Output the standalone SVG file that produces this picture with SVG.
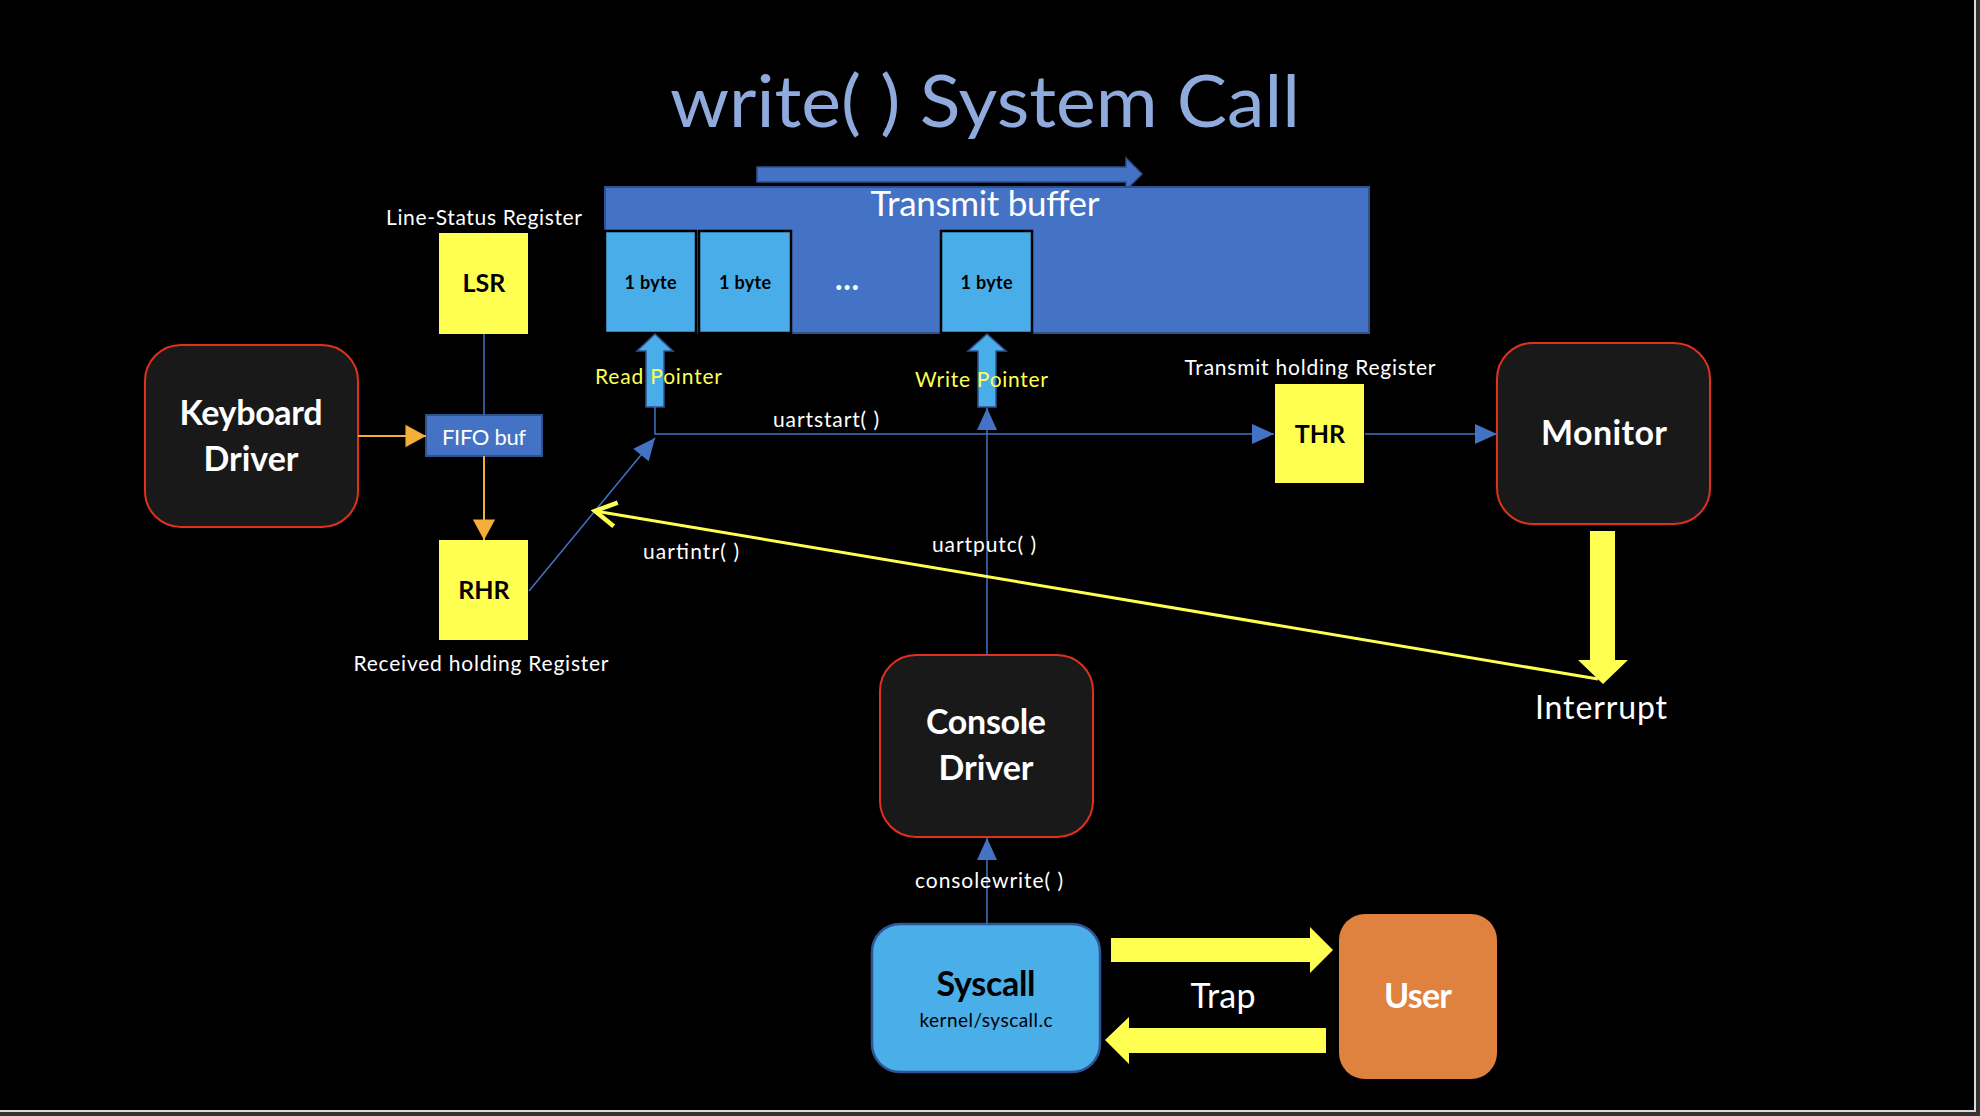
<svg xmlns="http://www.w3.org/2000/svg" width="1980" height="1116" viewBox="0 0 1980 1116">
<defs>
<style>
.t{font-family:Lato,"Open Sans","Liberation Sans",sans-serif;}
.b{font-weight:bold;}
.wh{fill:#ffffff;}
.bk{fill:#000000;}
.mid{text-anchor:middle;}
.reg{fill:#FFFF52;}
.drv{fill:#191919;stroke:#E0301E;stroke-width:2;}
.cell{fill:#48ADE8;stroke:#000000;stroke-width:2.5;}
.bl{stroke:#4472C4;stroke-width:1.5;fill:none;}
.or{stroke:#F4AE3A;stroke-width:2;fill:none;}
</style>
<marker id="ab" markerUnits="userSpaceOnUse" markerWidth="24" markerHeight="24" viewBox="-12 -6 12 12" refX="0" refY="0" orient="auto"><path d="M-11,-5 L0,0 L-11,5 Z" fill="#4472C4"/></marker>
<marker id="ao" markerUnits="userSpaceOnUse" markerWidth="24" markerHeight="24" viewBox="-13 -7 13 14" refX="0" refY="0" orient="auto"><path d="M-12,-6.5 L0,0 L-12,6.5 Z" fill="#F4AE3A"/></marker>
<marker id="ay" markerUnits="userSpaceOnUse" markerWidth="30" markerHeight="30" viewBox="-16 -10 18 20" refX="0" refY="0" orient="auto"><path d="M-14,-8 L0,0 L-14,8" fill="none" stroke="#FFFF52" stroke-width="3"/></marker>
</defs>
<rect x="0" y="0" width="1980" height="1116" fill="#000000"/>
<rect x="1976" y="0" width="4" height="1116" fill="#333333"/>
<rect x="0" y="1112" width="1980" height="4" fill="#333333"/>
<rect x="1974" y="0" width="2" height="1112" fill="#D9D9D9"/>
<rect x="0" y="1110" width="1976" height="2" fill="#D9D9D9"/>

<text id="title" class="t mid" x="985" y="127" font-size="72" fill="#8FAADC" textLength="630" lengthAdjust="spacingAndGlyphs">write( ) System Call</text>

<g id="direction-arrow">
<polygon points="757,167 1126,167 1126,158 1142,174 1126,190 1126,182 757,182" fill="#4472C4" stroke="#2F528F" stroke-width="1.5"/>
</g>

<g id="transmit-buffer">
<rect x="605" y="187" width="764" height="146" fill="#4472C4" stroke="#2F528F" stroke-width="2"/>
<text class="t mid wh" x="985" y="216" font-size="35" textLength="229">Transmit buffer</text>
</g>
<g id="byte1"><rect class="cell" x="605" y="231" width="91" height="102"/><text class="t b mid bk" x="650.5" y="289" font-size="18" textLength="52">1 byte</text></g>
<g id="byte2"><rect class="cell" x="699" y="231" width="92" height="102"/><text class="t b mid bk" x="745" y="289" font-size="18" textLength="52">1 byte</text></g>
<g id="ellipsis"><text class="t b mid wh" x="847" y="290" font-size="32" textLength="24">...</text></g>
<g id="byte3"><rect class="cell" x="941" y="231" width="91" height="102"/><text class="t b mid bk" x="986.5" y="289" font-size="18" textLength="52">1 byte</text></g>

<g id="read-pointer">
<polygon points="655,334 673,351 664,351 664,407 646,407 646,351 637,351" fill="#48ADE8" stroke="#2F528F" stroke-width="1.5"/>
<text class="t" x="595" y="384" font-size="21" fill="#FFFF52" textLength="127">Read Pointer</text>
</g>
<g id="write-pointer">
<polygon points="987,334 1006,351 996,351 996,407 978,407 978,351 968,351" fill="#48ADE8" stroke="#2F528F" stroke-width="1.5"/>
<text class="t" x="915" y="387" font-size="21" fill="#FFFF52" textLength="133">Write Pointer</text>
</g>

<g id="lsr">
<text class="t mid wh" x="484" y="225" font-size="21" textLength="196">Line-Status Register</text>
<rect class="reg" x="439" y="233" width="89" height="101"/>
<text class="t b mid bk" x="484" y="292" font-size="25">LSR</text>
</g>
<g id="fifo">
<rect x="426" y="415" width="116" height="41" fill="#4472C4" stroke="#2F528F" stroke-width="2"/>
<text class="t mid wh" x="484" y="445" font-size="22" textLength="84">FIFO buf</text>
</g>
<g id="rhr">
<rect class="reg" x="439" y="540" width="89" height="100"/>
<text class="t b mid bk" x="484" y="599" font-size="25">RHR</text>
<text class="t mid wh" x="481" y="671" font-size="21" textLength="255">Received holding Register</text>
</g>
<g id="thr">
<text class="t mid wh" x="1310" y="375" font-size="21" textLength="251">Transmit holding Register</text>
<rect class="reg" x="1275" y="384" width="89" height="99"/>
<text class="t b mid bk" x="1320" y="443" font-size="25">THR</text>
</g>

<g id="keyboard-driver">
<rect class="drv" x="145" y="345" width="213" height="182" rx="36"/>
<text class="t b mid wh" x="251" y="425" font-size="34" textLength="143">Keyboard</text>
<text class="t b mid wh" x="251" y="471" font-size="34">Driver</text>
</g>
<g id="monitor">
<rect class="drv" x="1497" y="343" width="213" height="181" rx="36"/>
<text class="t b mid wh" x="1604" y="445" font-size="34" textLength="126">Monitor</text>
</g>
<g id="console-driver">
<rect class="drv" x="880" y="655" width="213" height="182" rx="36"/>
<text class="t b mid wh" x="986" y="734" font-size="34" textLength="120">Console</text>
<text class="t b mid wh" x="986" y="780" font-size="34">Driver</text>
</g>
<g id="syscall">
<rect x="872" y="924" width="228" height="148" rx="28" fill="#4AAEE8" stroke="#2F5597" stroke-width="2.5"/>
<text class="t b mid bk" x="986" y="996" font-size="34" textLength="99">Syscall</text>
<text class="t mid bk" x="986" y="1027" font-size="19" textLength="133">kernel/syscall.c</text>
</g>
<g id="user">
<rect x="1339" y="914" width="158" height="165" rx="26" fill="#E0823F"/>
<text class="t b mid wh" x="1418" y="1008" font-size="34" textLength="68">User</text>
</g>
<g id="interrupt">
<text class="t mid wh" x="1601" y="719" font-size="32" textLength="132">Interrupt</text>
</g>

<g id="connectors">
<polyline class="bl" points="655,407 655,434 1274,434" marker-end="url(#ab)"/>
<line class="bl" x1="1365" y1="434" x2="1497" y2="434" marker-end="url(#ab)"/>
<line class="bl" x1="987" y1="655" x2="987" y2="408" marker-end="url(#ab)"/>
<line class="bl" x1="987" y1="924" x2="987" y2="838" marker-end="url(#ab)"/>
<line class="bl" x1="529" y1="591" x2="655" y2="438" marker-end="url(#ab)"/>
<line class="bl" x1="484" y1="334" x2="484" y2="415"/>
<line class="or" x1="358" y1="436" x2="426" y2="436" marker-end="url(#ao)"/>
<line class="or" x1="484" y1="456" x2="484" y2="540" marker-end="url(#ao)"/>
<line x1="1598" y1="679" x2="595" y2="511" stroke="#FFFF52" stroke-width="3" marker-end="url(#ay)"/>
<polygon points="1590,531 1615,531 1615,660 1628,660 1603,684 1578,660 1590,660" fill="#FFFF52"/>
<polygon points="1111,938 1310,938 1310,927 1333,950 1310,973 1310,962 1111,962" fill="#FFFF52"/>
<polygon points="1326,1028 1129,1028 1129,1017 1105,1040 1129,1064 1129,1053 1326,1053" fill="#FFFF52"/>
<text class="t mid wh" x="826" y="427" font-size="21" textLength="106">uartstart( )</text>
<text class="t mid wh" x="691" y="559" font-size="21" textLength="96">uartintr( )</text>
<text class="t mid wh" x="984" y="552" font-size="21" textLength="104">uartputc( )</text>
<text class="t mid wh" x="989" y="888" font-size="21" textLength="148">consolewrite( )</text>
<text class="t mid wh" x="1223" y="1008" font-size="34" textLength="65">Trap</text>
</g>
</svg>
